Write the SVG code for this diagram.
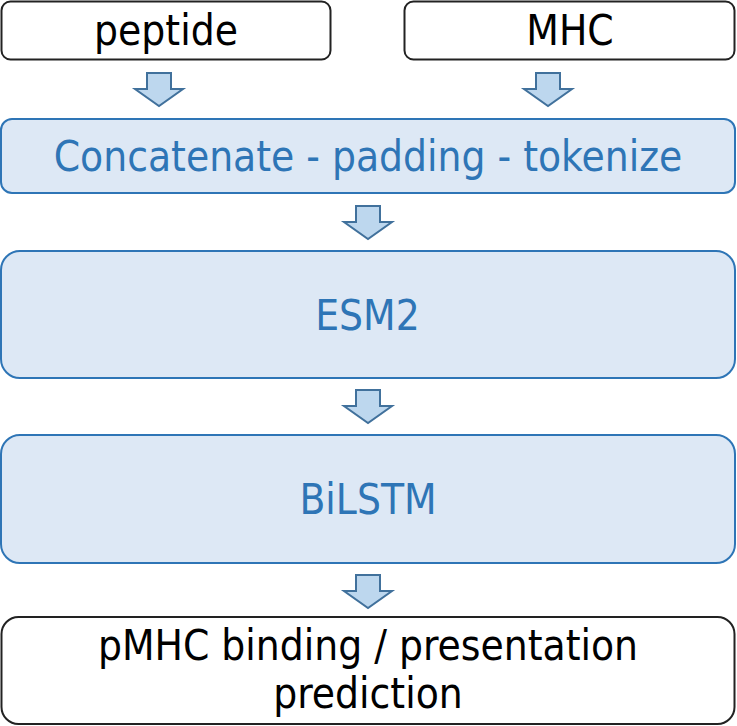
<svg xmlns="http://www.w3.org/2000/svg" width="737" height="726" viewBox="0 0 737 726">
<defs>
<style>
text{font-family:"DejaVu Sans Condensed","DejaVu Sans",sans-serif;font-stretch:condensed;font-size:42px;text-anchor:middle}
.w{fill:#ffffff;stroke:#222222;stroke-width:2}
.b{fill:#dde8f5;stroke:#2e75b6;stroke-width:2}
.tb{fill:#2e75b6}
.tk{fill:#000000}
.arr{fill:#bdd7ee;stroke:#41719c;stroke-width:2;stroke-linejoin:miter}
</style>
<path id="ar" d="M-12,0 H12 V16 H24 L0,33 L-24,16 H-12 Z"/>
</defs>
<rect width="737" height="726" fill="#ffffff"/>
<g id="connectors">
<use href="#ar" class="arr" x="159" y="73"/>
<use href="#ar" class="arr" x="548" y="73"/>
<use href="#ar" class="arr" x="368" y="206"/>
<use href="#ar" class="arr" x="368" y="390"/>
<use href="#ar" class="arr" x="368" y="575"/>
</g>
<g id="peptide">
<rect class="w" x="1.5" y="1.5" width="329" height="58" rx="9"/>
<text class="tk" x="166" y="45">peptide</text>
</g>
<g id="mhc">
<rect class="w" x="404.5" y="1.5" width="330" height="58" rx="9"/>
<text class="tk" x="570" y="45">MHC</text>
</g>
<g id="concat">
<rect class="b" x="1" y="119" width="734" height="74" rx="11"/>
<text class="tb" x="368" y="171">Concatenate - padding - tokenize</text>
</g>
<g id="esm2">
<rect class="b" x="1" y="251" width="734" height="127" rx="19"/>
<text class="tb" x="367.5" y="330">ESM2</text>
</g>
<g id="bilstm">
<rect class="b" x="1" y="435" width="734" height="128" rx="19"/>
<text class="tb" x="368" y="514">BiLSTM</text>
</g>
<g id="output">
<rect class="w" x="1.5" y="617" width="733" height="107" rx="17"/>
<text class="tk" x="368" y="660">pMHC binding / presentation</text>
<text class="tk" x="368" y="708">prediction</text>
</g>
</svg>
